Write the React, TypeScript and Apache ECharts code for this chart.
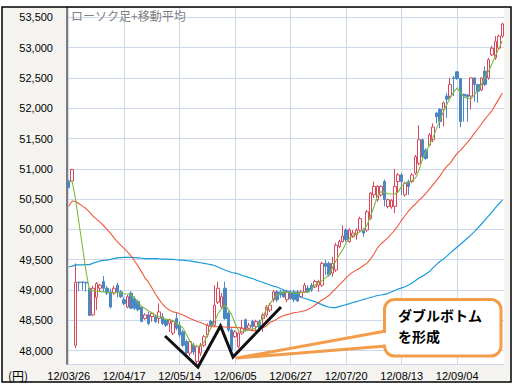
import React, { useEffect, useRef } from "react";
import * as echarts from "echarts";

const dates = [
  "12/03/26","12/03/27","12/03/28","12/03/29","12/03/30",
  "12/04/02","12/04/03","12/04/04","12/04/05","12/04/06",
  "12/04/09","12/04/10","12/04/11","12/04/12","12/04/13",
  "12/04/16","12/04/17","12/04/18","12/04/19","12/04/20",
  "12/04/23","12/04/24","12/04/25","12/04/26","12/04/27",
  "12/05/01","12/05/02","12/05/07","12/05/08","12/05/09","12/05/10","12/05/11",
  "12/05/14","12/05/15","12/05/16","12/05/17","12/05/18",
  "12/05/21","12/05/22","12/05/23","12/05/24","12/05/25",
  "12/05/28","12/05/29","12/05/30","12/05/31","12/06/01",
  "12/06/04","12/06/05","12/06/06","12/06/07","12/06/08",
  "12/06/11","12/06/12","12/06/13","12/06/14","12/06/15",
  "12/06/18","12/06/19","12/06/20","12/06/21","12/06/22",
  "12/06/25","12/06/26","12/06/27","12/06/28","12/06/29",
  "12/07/02","12/07/03","12/07/04","12/07/05","12/07/06",
  "12/07/09","12/07/10","12/07/11","12/07/12","12/07/13",
  "12/07/17","12/07/18","12/07/19","12/07/20",
  "12/07/23","12/07/24","12/07/25","12/07/26","12/07/27",
  "12/07/30","12/07/31","12/08/01","12/08/02","12/08/03",
  "12/08/06","12/08/07","12/08/08","12/08/09","12/08/10",
  "12/08/13","12/08/14","12/08/15","12/08/16","12/08/17",
  "12/08/20","12/08/21","12/08/22","12/08/23","12/08/24",
  "12/08/27","12/08/28","12/08/29","12/08/30","12/08/31",
  "12/09/03","12/09/04","12/09/05","12/09/06","12/09/07",
  "12/09/10","12/09/11","12/09/12","12/09/13","12/09/14",
  "12/09/18","12/09/19","12/09/20","12/09/21","12/09/24",
];

// [open, close, low, high]
const candles = [
  [50800,50690,50680,50820],[50800,50990,50780,51000],[48090,49130,48040,49440],[49130,49120,48980,49135],
  [49135,49125,48990,49140],[49130,49115,48970,49130],[49030,48580,48570,49040],[48590,49030,48570,49070],
  [48880,49110,48670,49130],[49030,49080,48970,49100],[49140,49030,48970,49230],[49030,48950,48920,49070],
  [48970,48720,48700,49020],[48950,49030,48920,49070],[49080,48970,48880,49120],[48970,48890,48870,49000],
  [48840,48780,48750,48880],[48720,48890,48700,48920],[48950,48700,48690,48980],[48860,48700,48670,48900],
  [48810,48680,48650,48840],[48720,48480,48470,48740],[48530,48590,48510,48620],[48590,48450,48420,48640],
  [48560,48620,48480,48640],[48560,48480,48460,48590],[48530,48640,48450,48780],[48560,48450,48420,48620],
  [48510,48420,48390,48520],[48450,48510,48310,48530],[48290,48480,48260,48510],[48530,48370,48340,48640],
  [48420,48260,48220,48480],[48310,48090,48060,48340],[48150,47960,47930,48180],[47960,48150,47910,48180],
  [48090,47980,47930,48130],[47820,48070,47760,48090],[47960,48090,47910,48130],[48090,48230,48060,48260],
  [48260,48420,48220,48450],[48480,48420,48400,48510],[48420,48750,48390,49080],[48800,49030,48770,49140],
  [48720,48890,48700,48950],[49030,48530,48510,49140],[48620,48340,48310,48650],[48340,48010,47980,48370],
  [48230,48310,48210,48340],[48070,48290,48040,48310],[48290,48370,48260,48510],[48510,48340,48310,48530],
  [48370,48420,48340,48460],[48480,48400,48340,48510],[48400,48480,48340,48510],[48480,48370,48310,48510],
  [48530,48590,48310,48620],[48590,48720,48550,48750],[48670,48750,48640,48790],[48840,48970,48800,49000],
  [48970,48840,48800,49000],[48970,48920,48870,49000],[48970,48890,48870,49000],[48840,48970,48800,49000],
  [48970,48860,48840,49000],[48970,48840,48800,49000],[48970,48820,48800,49000],[48890,48970,48870,49000],
  [48970,49080,48950,49120],[49030,48970,48950,49080],[49080,49000,48970,49120],[49050,49140,49030,49170],
  [49080,49140,48970,49170],[49080,49440,49050,49470],[49440,49390,49250,49500],[49440,49250,49220,49470],
  [49280,49440,49220,49550],[49330,49740,49300,49780],[49720,49800,49690,49830],[49800,49890,49780,50070],
  [49990,49830,49790,50020],[49800,49990,49780,50020],[49880,49940,49860,49990],[49910,49990,49830,50020],
  [49990,50180,49960,50210],[49990,49940,49880,50020],[49990,50290,49960,50320],[50180,50600,50160,50620],
  [50570,50710,50520,50790],[50490,50710,50460,50730],[50570,50710,50540,50730],[50790,50490,50380,50820],
  [50380,50490,50350,50510],[50370,50480,50340,50500],[50380,50710,50270,51000],[50790,50900,50600,50930],
  [50900,50790,50570,50930],[50570,50760,50540,50790],[50790,50710,50570,50820],[50790,50900,50760,50930],
  [50930,51200,50900,51230],[51090,51480,51060,51720],[51480,51200,51170,51500],[51310,51170,51150,51340],
  [51390,51560,51370,51590],[51480,51690,51440,51750],[51920,51860,51750,51940],[51980,51780,51670,52000],
  [51980,52090,51700,52110],[52200,52150,51840,52250],[52200,52390,52170,52500],[52500,52490,52200,52530],
  [52600,52490,52470,52610],[52490,51780,51690,52500],[52230,52200,51780,52240],[52220,52190,51780,52230],
  [52200,52500,51980,52510],[52500,52390,52110,52510],[52390,52280,52090,52400],[52300,52500,52280,52510],
  [52610,52390,52370,52690],[52500,52800,52470,52830],[52880,52990,52860,53030],[52830,53100,52800,53190],
  [52990,53190,52960,53210],[53190,53390,53160,53410],
];

const ma5 = [
  50790,50790,50490,50090,49700,49300,49000,48990,48980,48975,
  48970,48965,48960,48960,48955,48950,48940,48935,48920,48870,
  48795,48730,48695,48655,48620,48590,48560,48545,48520,48505,
  48500,48455,48420,48370,48260,48150,48085,48065,48075,48135,
  48260,48375,48470,48605,48685,48750,48685,48590,48440,48325,
  48315,48330,48340,48355,48375,48455,48560,48685,48770,48860,
  48920,48950,48970,48965,48960,48950,48945,48955,48965,48970,
  49015,49080,49125,49155,49200,49250,49365,49480,49580,49670,
  49775,49860,49910,49935,49960,49995,50070,50220,50370,50550,
  50620,50620,50590,50585,50585,50620,50715,50765,50780,50805,
  50850,50980,51160,51285,51390,51515,51655,51800,51940,52060,
  52170,52270,52335,52250,52185,52160,52160,52220,52300,52390,
  52515,52605,52730,52860,52985,53110,
];

const ma25 = [
  50385,50470,50460,50425,50385,50345,50285,50220,50170,50120,
  50065,50005,49940,49865,49800,49740,49685,49625,49560,49480,
  49395,49300,49200,49130,49035,48935,48850,48770,48710,48670,
  48640,48630,48610,48590,48560,48530,48505,48480,48465,48440,
  48415,48400,48395,48395,48395,48390,48390,48385,48385,48380,
  48375,48355,48340,48330,48330,48355,48380,48405,48465,48490,
  48520,48555,48580,48595,48610,48630,48635,48645,48660,48680,
  48710,48750,48795,48835,48870,48910,48970,49025,49085,49140,
  49205,49255,49300,49330,49365,49405,49445,49510,49595,49695,
  49760,49810,49860,49925,49990,50065,50155,50230,50305,50370,
  50420,50485,50535,50600,50665,50735,50805,50880,50965,51040,
  51095,51180,51255,51310,51375,51440,51510,51590,51665,51740,
  51820,51888,51955,52055,52150,52250,
];

const ma75 = [
  49380,49395,49415,49415,49415,49420,49420,49445,49460,49480,
  49490,49495,49505,49520,49530,49535,49540,49540,49540,49535,
  49530,49525,49520,49520,49520,49520,49515,49510,49510,49505,
  49505,49500,49495,49495,49485,49480,49470,49460,49450,49440,
  49430,49420,49405,49380,49355,49330,49310,49290,49280,49265,
  49240,49225,49205,49190,49165,49145,49125,49105,49083,49065,
  49050,49025,49000,48985,48960,48940,48915,48885,48860,48845,
  48825,48810,48785,48760,48735,48720,48710,48710,48730,48745,
  48760,48777,48795,48810,48827,48845,48860,48877,48893,48910,
  48918,48930,48942,48968,48993,49017,49035,49055,49083,49115,
  49157,49198,49230,49265,49305,49365,49420,49470,49510,49560,
  49610,49660,49710,49760,49810,49860,49910,49965,50025,50090,
  50155,50220,50285,50355,50420,50485,
];

const chartTitle = "ローソク足+移動平均";
const unitLabel = "(円)";
const noteLines = ["ダブルボトム", "を形成"];

const ORANGE = "#f29c4c";
const GRID = "#cdd8ec";
const CJK = '"Noto Sans CJK JP", sans-serif';
const LATIN = '"Liberation Sans", Arial, sans-serif';

export default function App() {
  const ref = useRef<HTMLDivElement>(null);
  useEffect(() => {
    const chart = echarts.init(ref.current!, null, { renderer: "svg" });
    const option: any = {
      animation: false,
      backgroundColor: "#fff",
      grid: { left: 67, right: 12, top: 7, bottom: 25, show: true, backgroundColor: "#fff", borderWidth: 0 },
      xAxis: {
        type: "category",
        data: dates,
        boundaryGap: true,
        axisLine: { show: false },
        axisTick: { show: false },
        axisLabel: { interval: 15, color: "#000", fontSize: 11, fontFamily: LATIN, margin: 6 },
        splitLine: { show: true, interval: 15, alignWithLabel: true, lineStyle: { color: GRID, width: 1 } },
      },
      yAxis: {
        type: "value",
        min: 47780,
        max: 53670,
        splitNumber: 12,
        minInterval: 500,
        maxInterval: 500,
        axisLine: { show: true, lineStyle: { color: "#555", width: 1.5 } },
        axisTick: { show: false },
        axisLabel: {
          color: "#000",
          fontSize: 11,
          fontFamily: LATIN,
          margin: 14,
          formatter: (v: number) => (v % 500 === 0 ? v.toLocaleString("en-US") : ""),
        },
        splitLine: { show: true, lineStyle: { color: GRID, width: 1 } },
      },
      series: [
        {
          type: "candlestick",
          data: candles,
          barWidth: 3,
          itemStyle: {
            color: "#fff",
            color0: "#4a87c3",
            borderColor: "#d8485c",
            borderColor0: "#4a87c3",
            borderWidth: 1,
          },
        },
        { type: "line", data: ma75, showSymbol: false, symbol: "none", lineStyle: { color: "#1b9ad8", width: 1.2 }, z: 3 },
        { type: "line", data: ma25, showSymbol: false, symbol: "none", lineStyle: { color: "#f0583c", width: 1.1 }, z: 3 },
        { type: "line", data: ma5, showSymbol: false, symbol: "none", lineStyle: { color: "#7cbc3c", width: 1.1 }, z: 4 },
      ],
      graphic: [
        { type: "rect", z: -1, silent: true, shape: { x: 2, y: 7, width: 509, height: 375 }, style: { fill: "#f4f3f0" } },
        { type: "rect", z: 100, silent: true, shape: { x: 2, y: 7, width: 509, height: 375 }, style: { fill: "none", stroke: "#000", lineWidth: 1.5 } },
        { type: "text", z: 100, x: 71, y: 9, style: { text: chartTitle, fill: "#808080", font: `12px ${CJK}`, verticalAlign: "top", textVerticalAlign: "top" } },
        { type: "text", z: 100, x: 8, y: 369, style: { text: unitLabel, fill: "#000", font: `12px ${CJK}`, verticalAlign: "top", textVerticalAlign: "top" } },
        {
          type: "polyline", z: 100,
          shape: { points: [[165, 336], [198, 367], [220.5, 326], [233, 357], [281, 307]] },
          style: { stroke: "#111", lineWidth: 3, fill: "none", lineJoin: "miter" },
        },
        {
          type: "polygon", z: 100,
          shape: { points: [[237, 358], [386, 331], [386, 346]] },
          style: { fill: "#fff", stroke: ORANGE, lineWidth: 3, lineJoin: "round" },
        },
        {
          type: "rect", z: 101,
          shape: { x: 384.5, y: 299.5, width: 116.5, height: 56.5, r: 10 },
          style: { fill: "#fff", stroke: ORANGE, lineWidth: 3 },
        },
        {
          type: "polygon", z: 102,
          shape: { points: [[383, 333], [391, 333], [391, 344.5], [383, 344.5]] },
          style: { fill: "#fff" },
        },
        { type: "text", z: 103, x: 398, y: 308, style: { text: noteLines[0], fill: "#000", font: `bold 14px ${CJK}`, verticalAlign: "top", textVerticalAlign: "top" } },
        { type: "text", z: 103, x: 398, y: 329, style: { text: noteLines[1], fill: "#000", font: `bold 14px ${CJK}`, verticalAlign: "top", textVerticalAlign: "top" } },
      ],
    };
    chart.setOption(option);
    return () => chart.dispose();
  }, []);
  return (
    <div
      ref={ref}
      style={{ position: "fixed", left: 0, top: 0, width: 516, height: 389, background: "#fff" }}
    />
  );
}
